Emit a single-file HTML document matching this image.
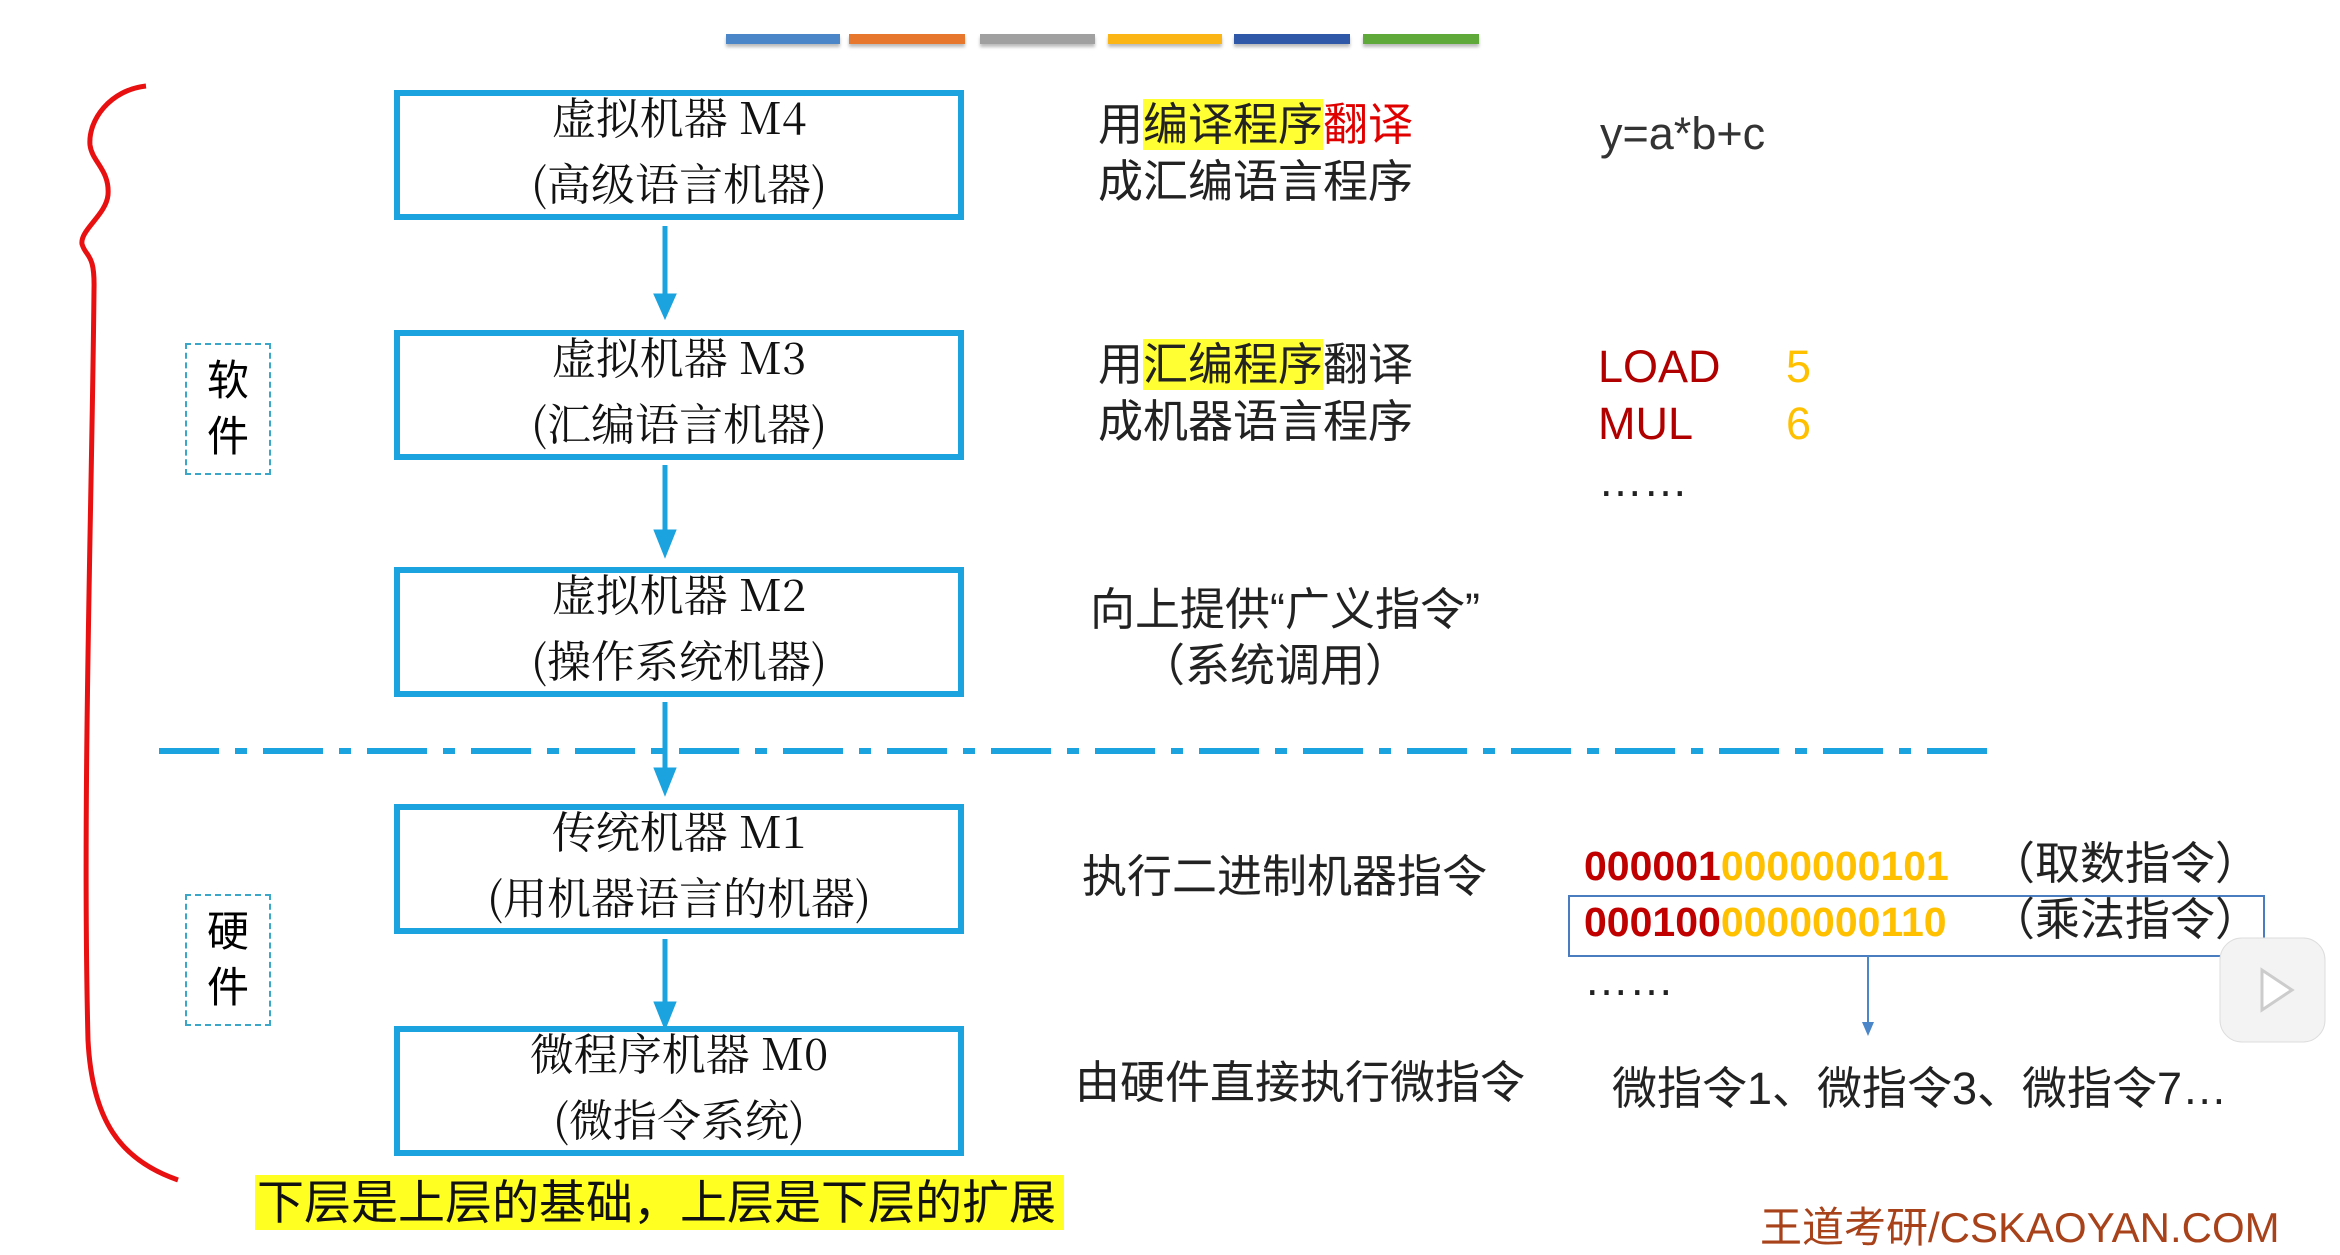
<!DOCTYPE html>
<html><head><meta charset="utf-8"><style>
body{margin:0;width:2340px;height:1234px;overflow:hidden;background:#fff;position:relative;font-family:"Liberation Sans","Noto Sans CJK SC",sans-serif;}
.a{position:absolute;white-space:nowrap;}
.bar{position:absolute;top:34px;height:10px;box-shadow:0 3px 3px #bbb;}
.box{position:absolute;left:394px;width:558px;height:118px;border:6px solid #1aa3df;font-family:"Noto Serif CJK SC",serif;font-size:44px;text-align:center;line-height:66px;color:#111;}
.box div{margin-top:-14px}
.t{font-size:45px;color:#222;}
.hl{background:#ffff33}
.side{position:absolute;left:185px;width:86px;height:132px;border:2px dashed #3aa6c8;font-size:42px;text-align:center;line-height:56px;padding-top:8px;box-sizing:border-box;}
.r{color:#c00000;font-weight:bold}.y{color:#ffc000;font-weight:bold}
</style></head><body>
<div class="bar" style="left:726px;width:114px;background:#4a86c8"></div>
<div class="bar" style="left:849px;width:116px;background:#e8772e"></div>
<div class="bar" style="left:980px;width:115px;background:#a0a0a0"></div>
<div class="bar" style="left:1108px;width:114px;background:#fbb515"></div>
<div class="bar" style="left:1234px;width:116px;background:#2f59a8"></div>
<div class="bar" style="left:1363px;width:116px;background:#5fa83a"></div>

<svg class="a" style="left:0;top:0" width="2340" height="1234">
<path d="M146 86 C110 90 88 120 90 145 C92 162 110 170 108 195 C106 215 80 230 82 244 C86 258 95 252 94 290 C92 500 82 800 88 1040 C92 1120 120 1160 178 1180" fill="none" stroke="#e81010" stroke-width="5"/>
<g stroke="#1aa3df" stroke-width="5" fill="#1aa3df">
<line x1="665" y1="226" x2="665" y2="304"/><polygon points="657,296 673,296 665,314"/>
<line x1="665" y1="465" x2="665" y2="540"/><polygon points="657,532 673,532 665,552"/>
<line x1="665" y1="702" x2="665" y2="778"/><polygon points="657,770 673,770 665,790"/>
<line x1="665" y1="939" x2="665" y2="1012"/><polygon points="657,1004 673,1004 665,1024"/>
</g>
<line x1="159" y1="751" x2="1995" y2="751" stroke="#1aa3df" stroke-width="6" stroke-dasharray="60,16,12,16"/>
<rect x="1569" y="896" width="695" height="60" fill="none" stroke="#4a7cc0" stroke-width="2"/>
<line x1="1868" y1="956" x2="1868" y2="1028" stroke="#4a86c8" stroke-width="2"/>
<polygon points="1862,1022 1874,1022 1868,1036" fill="#4a86c8"/>
<rect x="2220" y="938" width="105" height="104" rx="22" fill="#f3f3f3" stroke="#ddd"/>
<polygon points="2262,970 2262,1010 2292,990" fill="#fff" stroke="#ccc" stroke-width="3"/>
</svg>

<div class="box" style="top:90px"><div>虚拟机器 M4<br>(高级语言机器)</div></div>
<div class="box" style="top:330px"><div>虚拟机器 M3<br>(汇编语言机器)</div></div>
<div class="box" style="top:567px"><div>虚拟机器 M2<br>(操作系统机器)</div></div>
<div class="box" style="top:804px"><div>传统机器 M1<br>(用机器语言的机器)</div></div>
<div class="box" style="top:1026px"><div>微程序机器 M0<br>(微指令系统)</div></div>

<div class="side" style="top:343px">软<br>件</div>
<div class="side" style="top:894px">硬<br>件</div>

<div class="a t" style="left:1098px;top:96px;line-height:57px">用<span class="hl">编译程序</span><span style="color:#e00000">翻译</span><br>成汇编语言程序</div>
<div class="a t" style="left:1600px;top:108px;color:#333">y=a*b+c</div>
<div class="a t" style="left:1098px;top:336px;line-height:57px">用<span class="hl">汇编程序</span>翻译<br>成机器语言程序</div>
<div class="a t" style="left:1598px;top:338px;color:#b00000;line-height:57px">LOAD<br>MUL</div>
<div class="a t" style="left:1786px;top:338px;color:#ffc000;line-height:57px">5<br>6</div>
<div class="a t" style="left:1598px;top:455px">……</div>
<div class="a t" style="left:1090px;top:582px;line-height:56px">向上提供“广义指令”<br>&nbsp;&nbsp;&nbsp;&nbsp;（系统调用）</div>
<div class="a t" style="left:1082px;top:840px">执行二进制机器指令</div>
<div class="a t" style="left:1584px;top:838px;line-height:56px;font-size:41px"><span class="r">000001</span><span class="y">0000000101</span><br><span class="r">000100</span><span class="y">0000000110</span></div>
<div class="a t" style="left:1990px;top:836px;line-height:56px">（取数指令）<br>（乘法指令）</div>
<div class="a t" style="left:1584px;top:954px">……</div>
<div class="a t" style="left:1075px;top:1046px">由硬件直接执行微指令</div>
<div class="a t" style="left:1612px;top:1052px">微指令1、微指令3、微指令7…</div>
<div class="a" style="left:255px;top:1175px;width:807px;height:55px;background:#ffff22;font-size:47px;line-height:55px;padding-left:2px;color:#111">下层是上层的基础，上层是下层的扩展</div>
<div class="a" style="left:1760px;top:1194px;font-size:42px;color:#a8421a">王道考研/CSKAOYAN.COM</div>
</body></html>
